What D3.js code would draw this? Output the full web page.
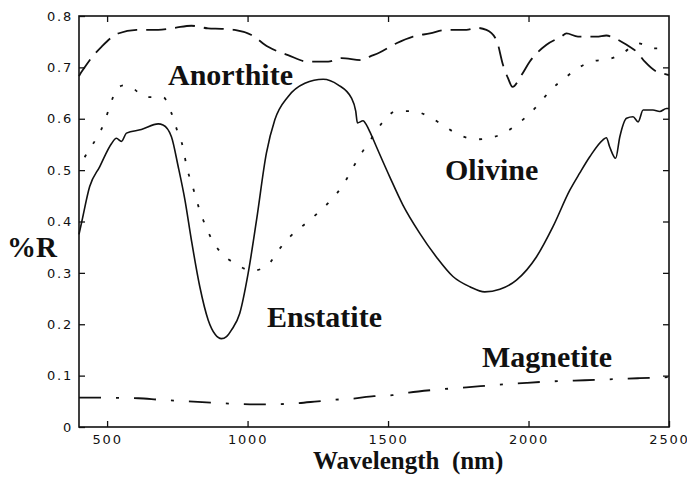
<!DOCTYPE html>
<html>
<head>
<meta charset="utf-8">
<script src="https://cdn.jsdelivr.net/npm/d3@7"></script>
<style>
  body { margin: 0; background: #fff; }
  .tick text { font-family: "DejaVu Sans", sans-serif; font-size: 13px; letter-spacing: 1.8px; fill: #111; }
  .mineral { font-family: "Liberation Serif", "Times New Roman", serif; font-weight: bold; font-size: 30px; fill: #111; }
</style>
</head>
<body>
<script>
// wavelength (nm), reflectance
const enstatite = [[400,0.375],[410,0.40],[438,0.468],[474,0.507],[516,0.552],[533,0.562],[551,0.556],[569,0.572],[622,0.579],[682,0.590],[699,0.588],[729,0.565],[753,0.507],[777,0.442],[800,0.364],[830,0.273],[860,0.208],[885,0.180],[907,0.172],[925,0.176],[943,0.189],[972,0.221],[1002,0.299],[1032,0.403],[1067,0.533],[1097,0.598],[1144,0.643],[1204,0.669],[1269,0.677],[1322,0.666],[1370,0.640],[1385,0.615],[1391,0.592],[1411,0.596],[1423,0.588],[1435,0.575],[1459,0.545],[1506,0.487],[1553,0.432],[1613,0.377],[1672,0.331],[1731,0.293],[1791,0.273],[1844,0.263],[1898,0.268],[1957,0.286],[2028,0.331],[2087,0.390],[2147,0.461],[2182,0.494],[2218,0.526],[2265,0.559],[2277,0.563],[2289,0.545],[2310,0.523],[2325,0.565],[2349,0.601],[2372,0.604],[2390,0.594],[2408,0.617],[2443,0.617],[2467,0.614],[2491,0.620],[2500,0.620]];

const anorthite = [[400,0.683],[403,0.686],[420,0.700],[438,0.714],[480,0.740],[539,0.766],[605,0.773],[682,0.773],[741,0.777],[800,0.781],[859,0.776],[907,0.775],[954,0.773],[1014,0.763],[1073,0.740],[1144,0.724],[1215,0.711],[1287,0.711],[1334,0.718],[1405,0.714],[1435,0.721],[1470,0.729],[1530,0.747],[1589,0.760],[1649,0.766],[1708,0.773],[1779,0.773],[1815,0.777],[1850,0.773],[1886,0.753],[1909,0.705],[1927,0.679],[1943,0.662],[1975,0.685],[2004,0.711],[2064,0.744],[2117,0.760],[2135,0.766],[2176,0.760],[2242,0.760],[2277,0.762],[2313,0.755],[2360,0.740],[2384,0.731],[2414,0.711],[2455,0.692],[2479,0.688],[2500,0.685]];

const olivine = [[420,0.525],[424,0.529],[462,0.562],[489,0.591],[510,0.625],[536,0.659],[560,0.665],[587,0.661],[638,0.642],[699,0.642],[729,0.611],[750,0.576],[771,0.542],[783,0.507],[803,0.471],[822,0.435],[842,0.403],[869,0.369],[907,0.338],[954,0.319],[1016,0.304],[1071,0.315],[1111,0.345],[1154,0.372],[1204,0.395],[1251,0.417],[1299,0.443],[1340,0.471],[1372,0.502],[1408,0.535],[1445,0.565],[1482,0.594],[1530,0.615],[1587,0.615],[1649,0.603],[1702,0.585],[1755,0.568],[1818,0.560],[1880,0.565],[1939,0.581],[1990,0.603],[2034,0.627],[2079,0.656],[2129,0.679],[2174,0.698],[2230,0.712],[2287,0.716],[2334,0.727],[2390,0.747],[2443,0.737],[2500,0.737]];

const magnetite = [[400,0.057],[481,0.057],[611,0.056],[686,0.053],[823,0.049],[960,0.045],[1069,0.044],[1168,0.046],[1250,0.050],[1310,0.053],[1370,0.055],[1450,0.060],[1516,0.062],[1574,0.067],[1680,0.073],[1779,0.077],[1885,0.082],[1993,0.086],[2090,0.089],[2200,0.091],[2300,0.093],[2396,0.095],[2500,0.097]];

const xTicks = [500, 1000, 1500, 2000, 2500];
const yTicks = [0, 0.1, 0.2, 0.3, 0.4, 0.5, 0.6, 0.7, 0.8];
const yTickLabels = ["0", "0.1", "0.2", "0.3", "0.4", "0.5", "0.6", "0.7", "0.8"];

const w = 687, h = 487;
const padLeft = 79, padRight = 669, padTop = 16, padBottom = 427;

const svg = d3.select("body").append("svg")
  .attr("width", w)
  .attr("height", h);

const x = d3.scaleLinear().domain([400, 2500]).range([padLeft, padRight]);
const y = d3.scaleLinear().domain([0, 0.8]).range([padBottom, padTop]);

// axes with inward ticks on all four sides
svg.append("g")
  .attr("transform", `translate(0,${padBottom})`)
  .call(d3.axisBottom(x).tickValues(xTicks).tickSizeInner(-6).tickSizeOuter(0).tickPadding(8)
    .tickFormat(d3.format("d")))
  .call(g => g.select(".domain").remove());

svg.append("g")
  .attr("transform", `translate(0,${padTop})`)
  .call(d3.axisTop(x).tickValues(xTicks.slice(0, 4)).tickSizeInner(-6).tickSizeOuter(0).tickFormat(""))
  .call(g => g.select(".domain").remove());

svg.append("g")
  .attr("transform", `translate(${padLeft},0)`)
  .call(d3.axisLeft(y).tickValues(yTicks).tickSizeInner(-6).tickSizeOuter(0).tickPadding(6)
    .tickFormat((d, i) => yTickLabels[i]))
  .call(g => g.select(".domain").remove());

svg.append("g")
  .attr("transform", `translate(${padRight},0)`)
  .call(d3.axisRight(y).tickValues(yTicks.slice(1, 8)).tickSizeInner(-6).tickSizeOuter(0).tickFormat(""))
  .call(g => g.select(".domain").remove());

svg.selectAll(".tick line").attr("stroke", "#111").attr("stroke-width", 1.3);

svg.append("rect")
  .attr("x", padLeft)
  .attr("y", padTop)
  .attr("width", padRight - padLeft)
  .attr("height", padBottom - padTop)
  .attr("fill", "none")
  .attr("stroke", "#111")
  .attr("stroke-width", 1.6);

const line = d3.line()
  .x(d => x(d[0]))
  .y(d => y(d[1]))
  .curve(d3.curveMonotoneX);

const series = [
  { data: anorthite, dash: "20,9", width: 1.8 },
  { data: olivine, dash: "3,13", width: 1.8 },
  { data: enstatite, dash: null, width: 1.6 },
  { data: magnetite, dash: "22,15,3,15", width: 1.8 }
];

svg.selectAll(".spectrum")
  .data(series)
  .enter()
  .append("path")
  .attr("class", "spectrum")
  .attr("d", d => line(d.data))
  .attr("fill", "none")
  .attr("stroke", "#111")
  .attr("stroke-width", d => d.width)
  .attr("stroke-dasharray", d => d.dash);

// mineral names
const names = [["Anorthite", 168, 85], ["Olivine", 445, 180], ["Enstatite", 267, 327], ["Magnetite", 482, 367]];
svg.selectAll(".mineral")
  .data(names)
  .enter()
  .append("text")
  .attr("class", "mineral")
  .attr("x", d => d[1])
  .attr("y", d => d[2])
  .text(d => d[0]);

svg.append("text")
  .attr("class", "mineral")
  .attr("x", 7)
  .attr("y", 257)
  .style("font-size", "29px")
  .text("%R");

svg.append("text")
  .attr("class", "mineral")
  .attr("x", 313)
  .attr("y", 469)
  .style("font-size", "25px")
  .style("white-space", "pre")
  .text("Wavelength  (nm)");
</script>
</body>
</html>
